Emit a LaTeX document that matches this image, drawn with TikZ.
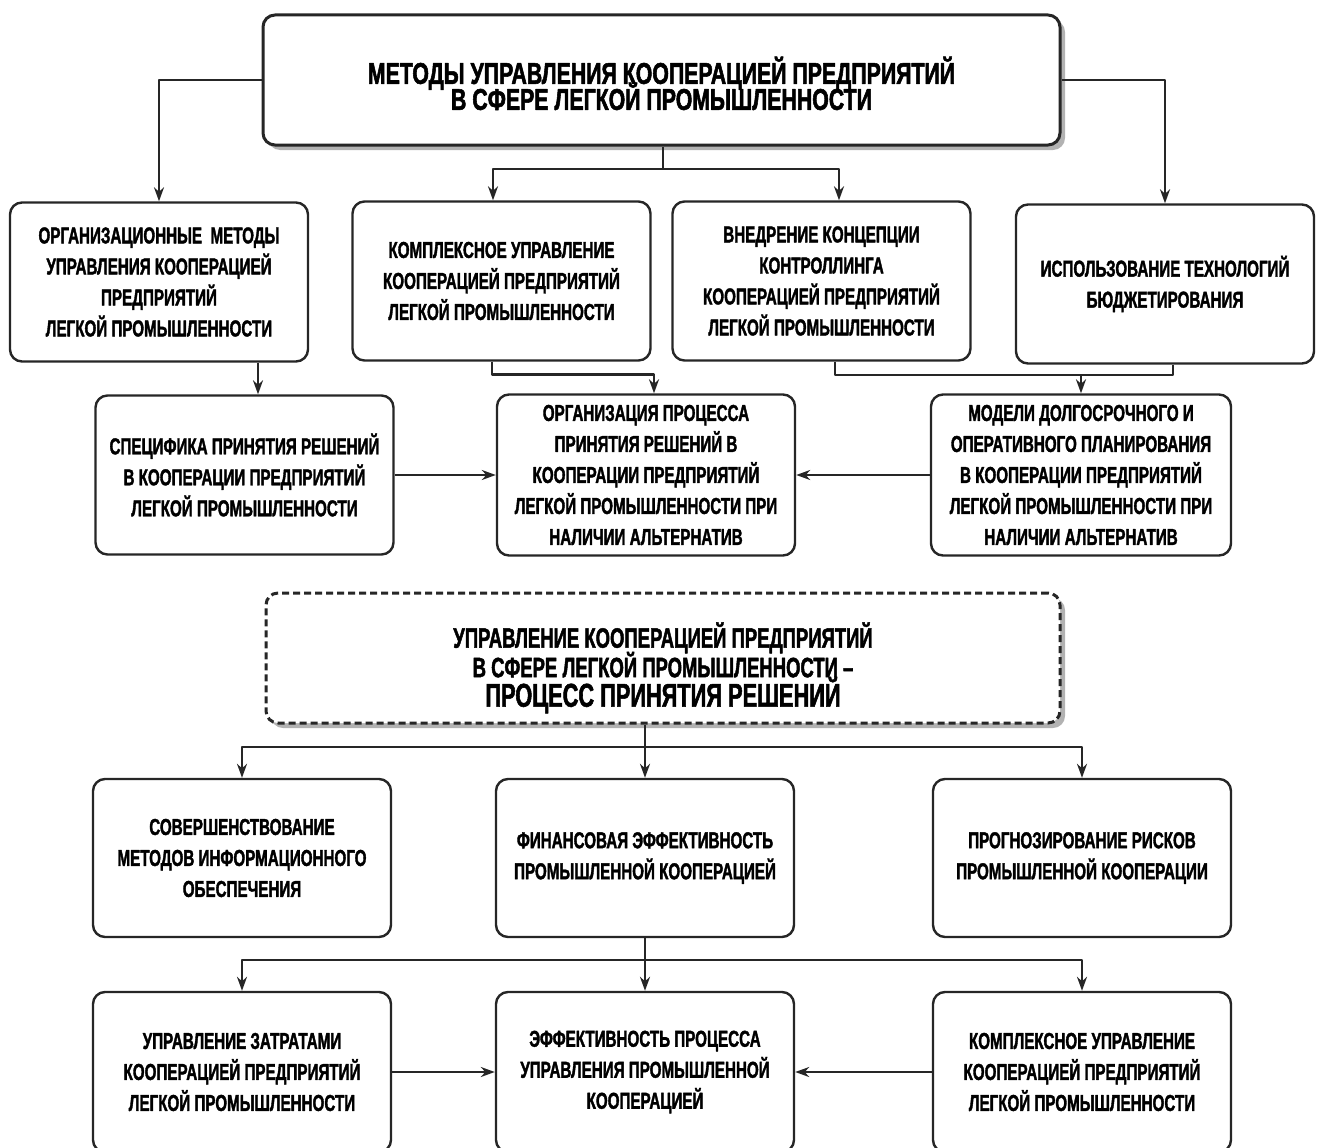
\documentclass[tikz,border=0pt]{standalone}
\usepackage{fontspec}
\setmainfont[FakeStretch=0.66, BoldFeatures={FakeBold=1.6}]{Liberation Sans}
\newfontfamily\headfont[FakeStretch=0.71, BoldFeatures={FakeBold=1.8}]{Liberation Sans}
\newcommand\tightlines{\lineskiplimit=-30pt\relax}
\usetikzlibrary{arrows.meta,shadows}
\begin{document}
\begin{tikzpicture}[x=1pt, y=-1pt, line join=round, >={Stealth[length=14pt,width=10pt]},
	box/.style={draw=black!85, fill=white, line width=2.4pt, rounded corners=12pt, align=center, inner sep=0pt,
		minimum width=298pt, minimum height=159pt, font=\bfseries\fontsize{23}{31}\selectfont},
	head/.style={box, line width=3pt, minimum width=797pt, minimum height=130pt,
		font={\headfont\bfseries\fontsize{30}{26}\selectfont\tightlines},
		drop shadow={shadow xshift=5pt, shadow yshift=-5pt, fill=black!60}},
	dashbox/.style={head, dash pattern=on 7pt off 4pt, minimum width=794pt,
		font={\bfseries\fontsize{28}{29.5}\selectfont\tightlines}},
	link/.style={draw=black!85, line width=2.8pt}]
	\useasboundingbox (0,0) rectangle (1322,1148);
	\clip (0,0) rectangle (1322,1148);
	\node[head] (meth) at (661.5,80) {\rule{0pt}{34pt}МЕТОДЫ УПРАВЛЕНИЯ КООПЕРАЦИЕЙ ПРЕДПРИЯТИЙ\\В СФЕРЕ ЛЕГКОЙ ПРОМЫШЛЕННОСТИ};
	\node[box] (orgm) at (159,282) {ОРГАНИЗАЦИОННЫЕ\ \ МЕТОДЫ\\УПРАВЛЕНИЯ КООПЕРАЦИЕЙ\\ПРЕДПРИЯТИЙ\\ЛЕГКОЙ ПРОМЫШЛЕННОСТИ};
	\node[box] (kompl) at (501.5,281) {КОМПЛЕКСНОЕ УПРАВЛЕНИЕ\\КООПЕРАЦИЕЙ ПРЕДПРИЯТИЙ\\ЛЕГКОЙ ПРОМЫШЛЕННОСТИ};
	\node[box] (kontr) at (821.5,281) {ВНЕДРЕНИЕ КОНЦЕПЦИИ\\КОНТРОЛЛИНГА\\КООПЕРАЦИЕЙ ПРЕДПРИЯТИЙ\\ЛЕГКОЙ ПРОМЫШЛЕННОСТИ};
	\node[box] (bud) at (1165,284) {ИСПОЛЬЗОВАНИЕ ТЕХНОЛОГИЙ\\БЮДЖЕТИРОВАНИЯ};
	\node[box] (spec) at (244.5,475) {СПЕЦИФИКА ПРИНЯТИЯ РЕШЕНИЙ\\В КООПЕРАЦИИ ПРЕДПРИЯТИЙ\\ЛЕГКОЙ ПРОМЫШЛЕННОСТИ};
	\node[box, minimum height=161pt] (proc) at (646,475) {ОРГАНИЗАЦИЯ ПРОЦЕССА\\ПРИНЯТИЯ РЕШЕНИЙ В\\КООПЕРАЦИИ ПРЕДПРИЯТИЙ\\ЛЕГКОЙ ПРОМЫШЛЕННОСТИ ПРИ\\НАЛИЧИИ АЛЬТЕРНАТИВ};
	\node[box, minimum width=300pt, minimum height=161pt] (mod) at (1081,475) {МОДЕЛИ ДОЛГОСРОЧНОГО И\\ОПЕРАТИВНОГО ПЛАНИРОВАНИЯ\\В КООПЕРАЦИИ ПРЕДПРИЯТИЙ\\ЛЕГКОЙ ПРОМЫШЛЕННОСТИ ПРИ\\НАЛИЧИИ АЛЬТЕРНАТИВ};
	\node[dashbox] (dash) at (663,658) {\rule{0pt}{45pt}УПРАВЛЕНИЕ КООПЕРАЦИЕЙ ПРЕДПРИЯТИЙ\\В СФЕРЕ ЛЕГКОЙ ПРОМЫШЛЕННОСТИ –\\{\fontsize{33}{29.5}\selectfont ПРОЦЕСС ПРИНЯТИЯ РЕШЕНИЙ}};
	\node[box, minimum height=158pt] (sov) at (242,858) {СОВЕРШЕНСТВОВАНИЕ\\МЕТОДОВ ИНФОРМАЦИОННОГО\\ОБЕСПЕЧЕНИЯ};
	\node[box, minimum height=158pt] (fin) at (645,858) {ФИНАНСОВАЯ ЭФФЕКТИВНОСТЬ\\ПРОМЫШЛЕННОЙ КООПЕРАЦИЕЙ};
	\node[box, minimum height=158pt] (prog) at (1082,858) {ПРОГНОЗИРОВАНИЕ РИСКОВ\\ПРОМЫШЛЕННОЙ КООПЕРАЦИИ};
	\node[box, minimum height=160pt] (zatr) at (242,1072) {УПРАВЛЕНИЕ ЗАТРАТАМИ\\КООПЕРАЦИЕЙ ПРЕДПРИЯТИЙ\\ЛЕГКОЙ ПРОМЫШЛЕННОСТИ};
	\node[box, minimum height=160pt] (eff) at (645,1072) {ЭФФЕКТИВНОСТЬ ПРОЦЕССА\\УПРАВЛЕНИЯ ПРОМЫШЛЕННОЙ\\КООПЕРАЦИЕЙ};
	\node[box, minimum height=160pt] (kompl2) at (1082,1072) {КОМПЛЕКСНОЕ УПРАВЛЕНИЕ\\КООПЕРАЦИЕЙ ПРЕДПРИЯТИЙ\\ЛЕГКОЙ ПРОМЫШЛЕННОСТИ};
	\coordinate (jt) at (663,169);
	\coordinate (jr) at (1081,375);
	\coordinate (jm) at (645,747);
	\coordinate (jb) at (645,960);
	\draw[link,->] (meth.west) -| (orgm.north);
	\draw[link,->] (meth.east) -| (bud.north);
	\draw[link] (meth.south -| jt) -- (jt);
	\draw[link,->] (jt) -| ([xshift=-8.5pt]kompl.north);
	\draw[link,->] (jt) -| ([xshift=17.5pt]kontr.north);
	\draw[link,->] ([xshift=99pt]orgm.south) -- ([xshift=13.5pt]spec.north);
	\draw[link,->] ([xshift=-9.5pt]kompl.south) |- ([xshift=8pt,yshift=19pt]proc.north) -- ([xshift=8pt]proc.north);
	\draw[link] ([xshift=13.5pt]kontr.south) |- (jr) -| ([xshift=8pt]bud.south);
	\draw[link,->] (jr) -- (mod.north);
	\draw[link,->] (spec.east) -- (proc.west);
	\draw[link,->] (mod.west) -- (proc.east);
	\draw[link,->] (dash.south -| jm) -- (fin.north);
	\draw[link,->] (jm) -| (sov.north);
	\draw[link,->] (jm) -| (prog.north);
	\draw[link,->] (fin.south) -- (eff.north);
	\draw[link,->] (jb) -| (zatr.north);
	\draw[link,->] (jb) -| (kompl2.north);
	\draw[link,->] (zatr.east) -- (eff.west);
	\draw[link,->] (kompl2.west) -- (eff.east);
\end{tikzpicture}
\end{document}
